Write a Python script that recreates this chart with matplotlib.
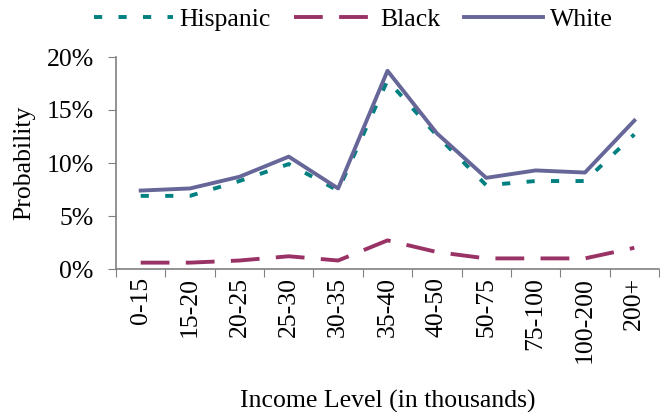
import numpy as np
import matplotlib.pyplot as plt
from matplotlib.ticker import PercentFormatter

# probabilidad por tramo de ingreso (%)
income_bins = ['0-15', '15-20', '20-25', '25-30', '30-35', '35-40',
               '40-50', '50-75', '75-100', '100-200', '200+']
hispanic = [6.9, 6.9, 8.3, 9.9, 7.4, 17.8, 12.6, 7.9, 8.3, 8.3, 12.7]
black    = [0.6, 0.6, 0.8, 1.2, 0.8, 2.7, 1.6, 1.0, 1.0, 1.0, 2.0]
white    = [7.4, 7.6, 8.7, 10.6, 7.6, 18.7, 12.8, 8.6, 9.3, 9.1, 14.0]

plt.rcParams['font.family'] = ['Liberation Serif', 'DejaVu Serif']
FS = 18.5

fig = plt.figure(figsize=(6.6, 4.12), dpi=100)
ax = fig.add_axes([116/660, 1-269/412, (659-116)/660, (269-57)/412])

x = np.arange(len(income_bins))
lw = 2.8
ax.plot(x, hispanic, color='#008080', lw=lw, dashes=(2.1, 4.2), label='Hispanic')
ax.plot(x, black, color='#993366', lw=lw, dashes=(7.4, 4.2), label='Black')
ax.plot(x, white, color='#666699', lw=lw, label='White')

ax.set_xlim(-0.5, len(income_bins) - 0.5)
ax.set_ylim(0, 20)
ax.set_yticks([0, 5, 10, 15, 20])
ax.yaxis.set_major_formatter(PercentFormatter(decimals=0))

# ticks entre categorias, etiquetas centradas
ax.set_xticks(np.arange(-0.5, len(income_bins)), minor=False)
ax.set_xticklabels([])
ax.set_xticks(x, minor=True)
ax.set_xticklabels(income_bins, minor=True, rotation=90, fontsize=FS)
ax.tick_params(axis='x', which='minor', length=0, pad=6)
ax.tick_params(axis='x', which='major', length=6, direction='out', color='#808080')
ax.tick_params(axis='y', length=6, direction='out', color='#808080', labelsize=FS, pad=10)

for s in ['top', 'right']:
    ax.spines[s].set_visible(False)
for s in ['left', 'bottom']:
    ax.spines[s].set_color('#808080')
    ax.spines[s].set_linewidth(1.2)

ax.set_ylabel('Probability', fontsize=FS, labelpad=8)
ax.set_xlabel('Income Level (in thousands)', fontsize=FS, labelpad=19)

fig.legend(loc='center', bbox_to_anchor=(0.535, 1-20/412), ncol=3, frameon=False,
           fontsize=FS, handlelength=3.1, handletextpad=0.25, columnspacing=0.9)

fig.savefig('out.png', dpi=100)
